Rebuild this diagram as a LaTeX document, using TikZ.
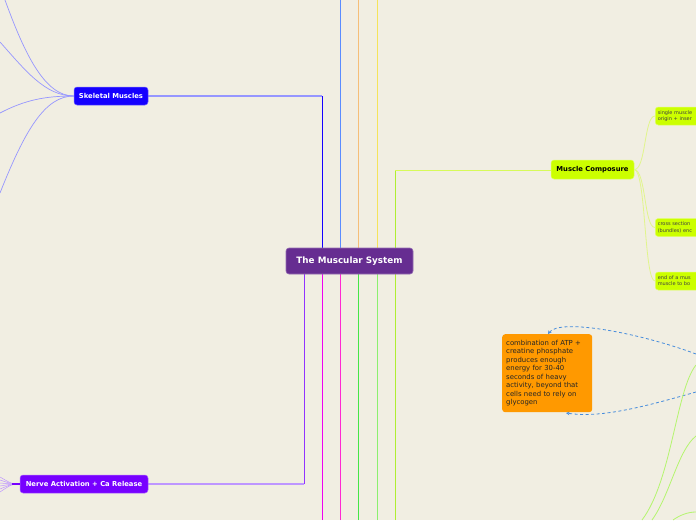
\documentclass[tikz,border=0pt]{standalone}
\usepackage{fontspec}
\setmainfont{DejaVu Sans}
\usetikzlibrary{arrows.meta}
\definecolor{bgc}{RGB}{241,238,226}
\definecolor{cenc}{RGB}{102,45,145}
\definecolor{skc}{RGB}{21,0,255}
\definecolor{nvc}{RGB}{119,0,255}
\definecolor{limec}{RGB}{204,255,0}
\definecolor{orc}{RGB}{255,153,0}
\definecolor{lavc}{RGB}{150,150,255}
\definecolor{nlavc}{RGB}{190,150,255}
\definecolor{lbluec}{RGB}{90,140,255}
\definecolor{lorc}{RGB}{245,190,120}
\definecolor{lyelc}{RGB}{245,228,90}
\definecolor{magc}{RGB}{240,0,240}
\definecolor{pinkc}{RGB}{255,40,210}
\definecolor{grnc}{RGB}{70,230,70}
\definecolor{lgrnc}{RGB}{140,240,110}
\definecolor{limelc}{RGB}{175,238,50}
\definecolor{limehc}{RGB}{215,250,90}
\definecolor{childlc}{RGB}{225,245,140}
\definecolor{crvgc}{RGB}{180,245,110}
\definecolor{dashbc}{RGB}{70,140,220}
\begin{document}
\begin{tikzpicture}[x=1pt,y=-1pt,
  box/.style={rounded corners=3pt, inner sep=0pt, align=center},
  wtext/.style={text=white, font=\fontsize{6.8}{8}\selectfont\bfseries},
  dline/.style={line width=1pt, draw=#1, postaction={draw=#1, line width=1pt, opacity=0.35}},
  childbox/.style={rounded corners=3pt, fill=limec, draw=limec!60!white, line width=0.5pt,
    minimum width=60pt, minimum height=18pt, inner sep=0pt, anchor=west,
    text width=55pt, align=left, font=\fontsize{5}{6.2}\selectfont, text=black!75},
  darrow/.style={dashbc, line width=0.8pt, dash pattern=on 3pt off 2.5pt, -{Stealth[length=3.5pt,width=3.5pt]}}]
\useasboundingbox (0,0) rectangle (696,520);
\fill[bgc] (0,0) rectangle (696,520);

% ---- coordinates for connector bends and free ends
\coordinate (skb) at (322,96);
\coordinate (nvb) at (304,484);
\coordinate (mcb) at (395,170);
\coordinate (t1) at (340,0);
\coordinate (t2) at (358,0);
\coordinate (t3) at (377,0);
\coordinate (b1) at (322,520);
\coordinate (b2) at (340,520);
\coordinate (b3) at (358,520);
\coordinate (b4) at (377,520);
\coordinate (b5) at (395,520);
\coordinate (cc) at (349.5,261);

% ---- trunk lines (behind nodes)
\draw[line width=1pt, lbluec] (t1) -- (t1 |- cc);
\draw[line width=1pt, lorc] (t2) -- (t2 |- cc);
\draw[line width=1pt, lyelc] (t3) -- (t3 |- cc);
\draw[line width=1pt, magc] (b1) -- (b1 |- cc);
\draw[line width=1pt, pinkc] (b2) -- (b2 |- cc);
\draw[line width=1pt, grnc] (b3) -- (b3 |- cc);
\draw[line width=1pt, lgrnc] (b4) -- (b4 |- cc);
\draw[line width=1pt, limelc] (b5) -- (mcb);
\draw[line width=1pt, limehc] (mcb) -- (mcb -| 551,0);

\draw[line width=1.3pt, lavc] (111,96) -- (skb);
\draw[line width=1pt, skc] (skb) -- (skb |- cc);
\draw[line width=1.3pt, nlavc] (84,484) -- (nvb);
\draw[line width=1pt, nvc!80] (nvb) -- (nvb |- cc);

% ---- nodes
\node[box, fill=cenc, draw=cenc!70!white, line width=0.6pt, minimum width=127pt, minimum height=26pt,
  text=white, font=\fontsize{8.8}{10}\selectfont\bfseries] (cen) at (cc) {The Muscular System};
\node[box, fill=skc, draw=skc!60!white, line width=0.5pt, minimum width=74pt, minimum height=18pt, wtext] (sk) at (111,96) {Skeletal Muscles};
\node[box, fill=nvc, draw=nvc!60!white, line width=0.5pt, minimum width=128pt, minimum height=18pt, wtext] (nv) at (84,484) {Nerve Activation + Ca Release};
\node[box, fill=limec, draw=limec!60!white, line width=0.5pt, minimum width=83pt, minimum height=19pt,
  font=\fontsize{6.8}{8}\selectfont\bfseries] (mc) at (592.5,169.5) {Muscle Composure};
\node[box, fill=orc, minimum width=90pt, minimum height=78pt, text width=82pt, align=left,
  font=\fontsize{6.9}{8.5}\selectfont, text=black!85, anchor=north west] (atp) at (502,334)
  {combination of ATP +\\creatine phosphate\\produces enough\\energy for 30-40\\seconds of heavy\\activity, beyond that\\cells need to rely on\\glycogen};

\node[childbox] (c1) at (655,116) {single muscle\\origin + inser};
\node[childbox] (c2) at (655,227.5) {cross section\\(bundles) enc};
\node[childbox] (c3) at (655,281) {end of a mus\\muscle to bo};

% ---- child curves of Muscle Composure
\draw[childlc, line width=0.8pt] (mc.east) .. controls (646,170) and (644,116) .. (c1.west);
\draw[childlc, line width=0.8pt] (mc.east) .. controls (646,170) and (644,227.5) .. (c2.west);
\draw[childlc, line width=0.8pt] (mc.east) .. controls (646,170) and (644,281) .. (c3.west);

% ---- Skeletal Muscles fan (free ends)
\coordinate (s1) at (5,0);
\coordinate (s2) at (0,42);
\coordinate (s3) at (0,113);
\coordinate (s4) at (0,193);
\draw[lavc, line width=0.7pt] (sk.west) .. controls (45,96) and (25,55) .. (s1);
\draw[lavc, line width=0.7pt] (sk.west) .. controls (45,96) and (25,70) .. (s2);
\draw[lavc, line width=0.7pt] (sk.west) .. controls (45,96) and (25,100) .. (s3);
\draw[lavc, line width=0.7pt] (sk.west) .. controls (45,96) and (25,130) .. (s4);

% ---- Nerve Activation fan
\foreach \yy in {477,480,483,486,489,492}{
  \draw[nlavc, line width=0.5pt] (nv.west) .. controls (12,484) .. (0,\yy);
}
\draw[nvc, line width=1.5pt] (nv.west) -- (12,484);

% ---- dashed arrows to the ATP note
\coordinate (r1) at (696,354);
\coordinate (r2) at (696,392);
\draw[darrow] (r1) .. controls (640,333) and (560,318) .. (atp.north -| 548,0);
\draw[darrow] (r2) .. controls (640,408) and (600,418) .. (566,413);

% ---- green curves lower right (free ends)
\coordinate (g1s) at (642,520);
\coordinate (g1e) at (696,365);
\coordinate (g2s) at (652,520);
\coordinate (g2e) at (696,436);
\coordinate (g3s) at (673,520);
\coordinate (g3e) at (696,512);
\draw[crvgc, line width=0.8pt] (g1s) .. controls (672,480) and (676,390) .. (g1e);
\draw[crvgc, line width=0.8pt] (g2s) .. controls (670,495) and (678,450) .. (g2e);
\draw[crvgc, line width=0.8pt] (g3s) .. controls (680,515) and (688,512) .. (g3e);
\end{tikzpicture}
\end{document}
